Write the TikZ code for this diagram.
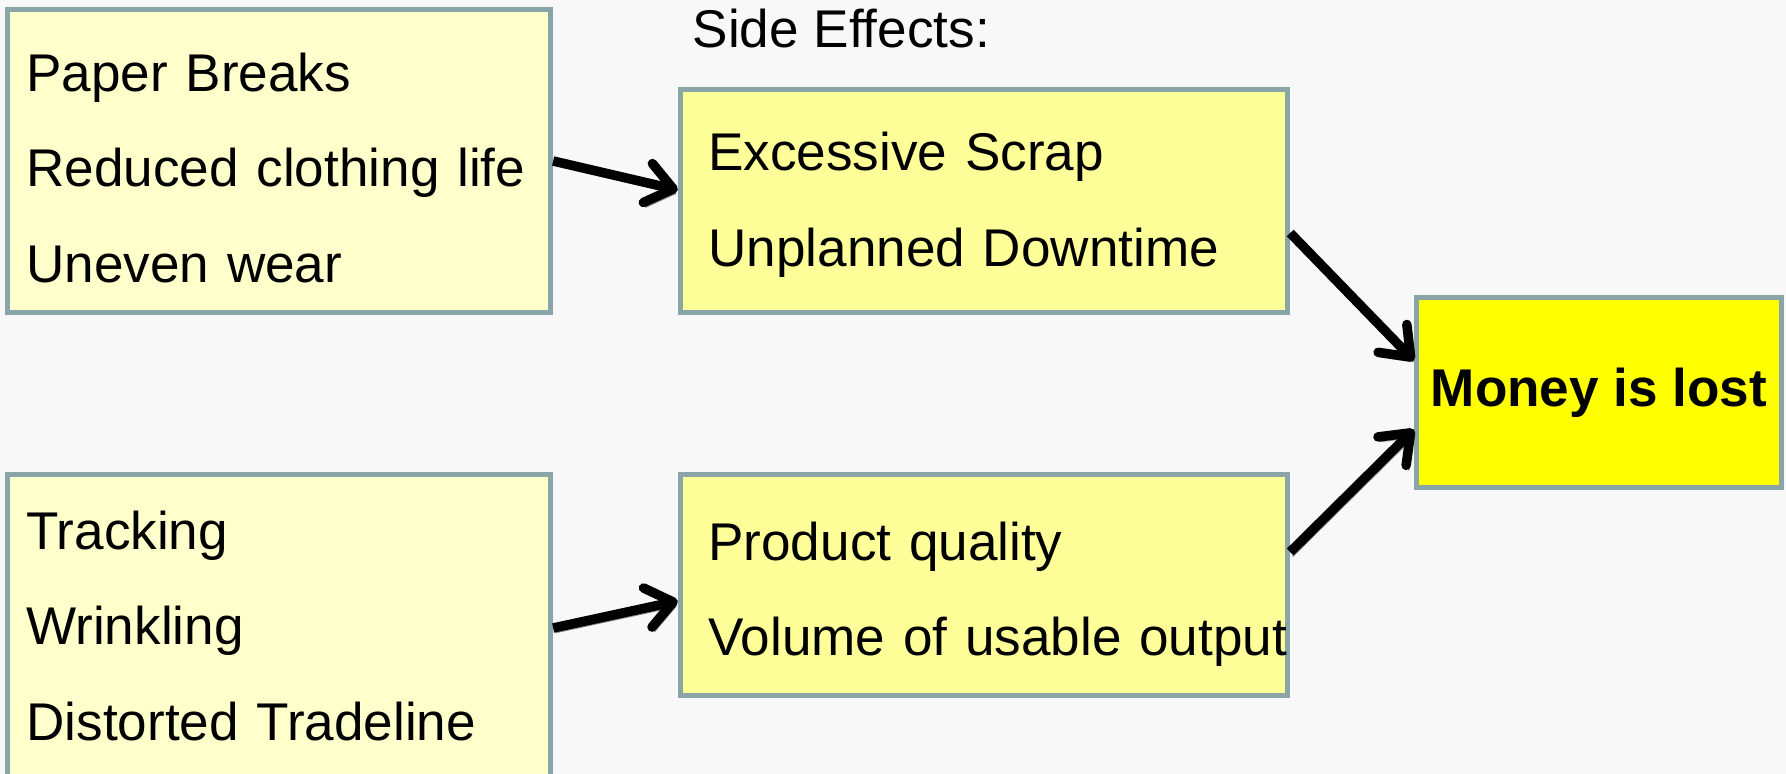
\documentclass[tikz,border=0pt]{standalone}
\usepackage{fontspec}
\setmainfont{Liberation Sans}
\usetikzlibrary{arrows.meta}
\definecolor{bgcol}{HTML}{F8F8F8}
\definecolor{edgecol}{HTML}{8AA5A8}
\definecolor{causefill}{HTML}{FFFFCC}
\definecolor{effectfill}{HTML}{FFFF99}
\definecolor{lossfill}{HTML}{FFFF00}
\definecolor{shadowcol}{HTML}{8C8C8C}
\tikzset{
  box/.style={draw=edgecol,line width=0.05cm,inner ysep=0pt,align=left,
    font=\fontsize{15.1pt}{27.2pt}\selectfont},
  causebox/.style={box,fill=causefill,inner xsep=0.19cm,text width=5.05cm,minimum height=3.03cm},
  effectbox/.style={box,fill=effectfill,inner xsep=0.28cm,text width=5.51cm},
  lossbox/.style={box,fill=lossfill,minimum width=3.65cm,minimum height=1.9cm,
    font=\fontsize{15.1pt}{18pt}\selectfont\bfseries},
  effectarrow/.style={line width=0.095cm,-{Straight Barb[round,length=0.26cm,width=0.4cm]},
    preaction={draw=shadowcol,transform canvas={shift={(0.7pt,-1.3pt)}}}}
}
\begin{document}
\begin{tikzpicture}[x=0.01cm,y=-0.01cm]
\useasboundingbox (0,0) rectangle (1786,774);
\fill[bgcol] (0,0) rectangle (1786,774);
\clip (0,0) rectangle (1786,774);
% causes
\node[causebox,text height=0.52cm] (breaks) at (279,161) {Paper Breaks\\Reduced clothing life\\Uneven wear};
\node[causebox] (tracking) at (279,626) {Tracking\\Wrinkling\\Distorted Tradeline};
% side effects
\node[anchor=base west,inner sep=0pt,font=\fontsize{15.1pt}{18pt}\selectfont] (sidefx) at (692,48) {Side Effects:};
\node[effectbox,minimum height=2.23cm,text height=0.46cm] (scrap) at (984,201) {Excessive Scrap\\Unplanned Downtime};
\node[effectbox,minimum height=2.21cm,text height=0.57cm] (quality) at (984,585) {Product quality\\\mbox{Volume of usable output}};
% result
\node[lossbox] (money) at (1599,392.5) {Money is lost};
\draw[effectarrow] (breaks.east) -- ([yshift=0.11cm]scrap.west);
\draw[effectarrow] ([yshift=-0.02cm]tracking.east) -- ([yshift=-0.16cm]quality.west);
\draw[effectarrow] ([yshift=-0.32cm]scrap.east) -- ([yshift=0.32cm]money.west);
\draw[effectarrow] ([yshift=0.33cm]quality.east) -- ([yshift=-0.37cm]money.west);
\end{tikzpicture}
\end{document}
